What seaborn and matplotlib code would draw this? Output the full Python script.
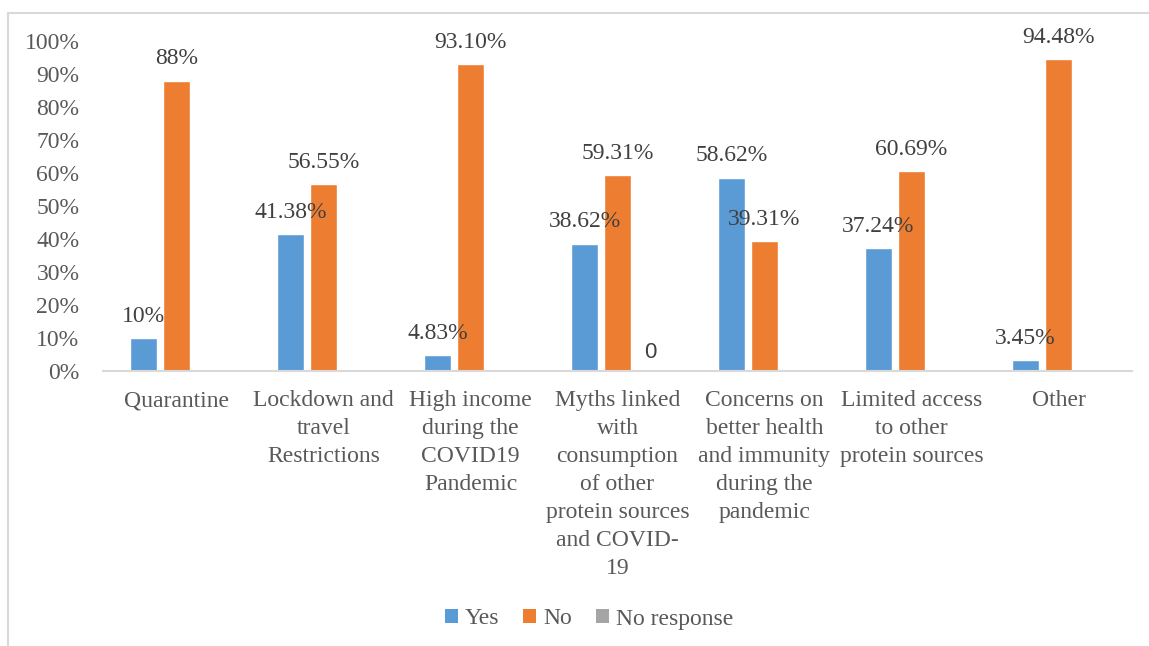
import matplotlib
matplotlib.use("Agg")
import matplotlib.pyplot as plt
from matplotlib.lines import Line2D
from matplotlib.patches import Patch
from matplotlib.ticker import PercentFormatter, MultipleLocator
import numpy as np
import pandas as pd
import seaborn as sns

categories = [
    "Quarantine",
    "Lockdown and\ntravel\nRestrictions",
    "High income\nduring the\nCOVID19\nPandemic",
    "Myths linked\nwith\nconsumption\nof other\nprotein sources\nand COVID-\n19",
    "Concerns on\nbetter health\nand immunity\nduring the\npandemic",
    "Limited access\nto other\nprotein sources",
    "Other",
]
series = ["Yes", "No", "No response"]
yes_values = [0.10, 0.4138, 0.0483, 0.3862, 0.5862, 0.3724, 0.0345]
no_values = [0.88, 0.5655, 0.9310, 0.5931, 0.3931, 0.6069, 0.9448]
no_response_values = [np.nan, np.nan, np.nan, 0.0, np.nan, np.nan, np.nan]
yes_labels = ["10%", "41.38%", "4.83%", "38.62%", "58.62%", "37.24%", "3.45%"]
no_labels = ["88%", "56.55%", "93.10%", "59.31%", "39.31%", "60.69%", "94.48%"]
no_response_labels = ["", "", "", "0", "", "", ""]

colors = ["#5B9BD5", "#ED7D31", "#A5A5A5"]

df = pd.DataFrame({
    "category": categories * 3,
    "series": [s for s in series for _ in categories],
    "value": yes_values + no_values + no_response_values,
})

sns.set_theme(style="white")
plt.rcParams["font.family"] = ["Liberation Serif", "DejaVu Serif"]

W, H = 1149, 646
fig = plt.figure(figsize=(W / 100, H / 100), dpi=100)
ax = fig.add_axes([103 / W, 1 - 371 / H, (1132 - 103) / W, (371 - 41) / H])

sns.barplot(
    data=df.dropna(), x="category", y="value", hue="series",
    order=categories, hue_order=series, palette=colors,
    width=0.673, gap=0.21, errorbar=None, saturation=1,
    legend=False, ax=ax,
)

label_sets = [yes_labels, no_labels, no_response_labels]
for container, s, labels in zip(ax.containers, series, label_sets):
    shown = [lab for lab in labels if lab != ""] if len(container) < len(labels) else labels
    if s == "No response":
        ax.bar_label(container, labels=shown, padding=6, fontsize=16,
                     color="#404040", family=["Liberation Sans", "DejaVu Sans"])
    else:
        ax.bar_label(container, labels=shown, padding=8, fontsize=17,
                     color="#404040")

ax.set_ylim(0, 1)
ax.set_xlim(-0.5, len(categories) - 0.5)
ax.yaxis.set_major_locator(MultipleLocator(0.1))
ax.yaxis.set_major_formatter(PercentFormatter(1.0, decimals=0))
ax.set_xlabel("")
ax.set_ylabel("")
ax.tick_params(axis="y", length=0, pad=17, labelsize=17, labelcolor="#595959")
ax.tick_params(axis="x", length=0, pad=14, labelsize=17, labelcolor="#595959")
for lab in ax.get_xticklabels():
    lab.set_linespacing(1.43)
for side in ["top", "right", "left"]:
    ax.spines[side].set_visible(False)
ax.spines["bottom"].set_color("#D9D9D9")
ax.spines["bottom"].set_linewidth(1.5)
ax.grid(False)

handles = [Patch(facecolor=c, edgecolor="none", label=s) for c, s in zip(colors, series)]
fig.legend(
    handles=handles, loc="center", bbox_to_anchor=(589 / W, 1 - 619 / H),
    ncol=3, frameon=False, fontsize=17, labelcolor="#595959",
    handlelength=0.55, handleheight=0.55, handletextpad=0.3, columnspacing=1.0,
)

# chart-area frame (left and top edges)
frame_color = "#D9D9D9"
fig.add_artist(Line2D([8 / W, 8 / W], [0, 1 - 13 / H], color=frame_color, lw=1.5))
fig.add_artist(Line2D([8 / W, 1], [1 - 13 / H, 1 - 13 / H], color=frame_color, lw=1.5))

fig.savefig("out.png", dpi=100, facecolor="white")
